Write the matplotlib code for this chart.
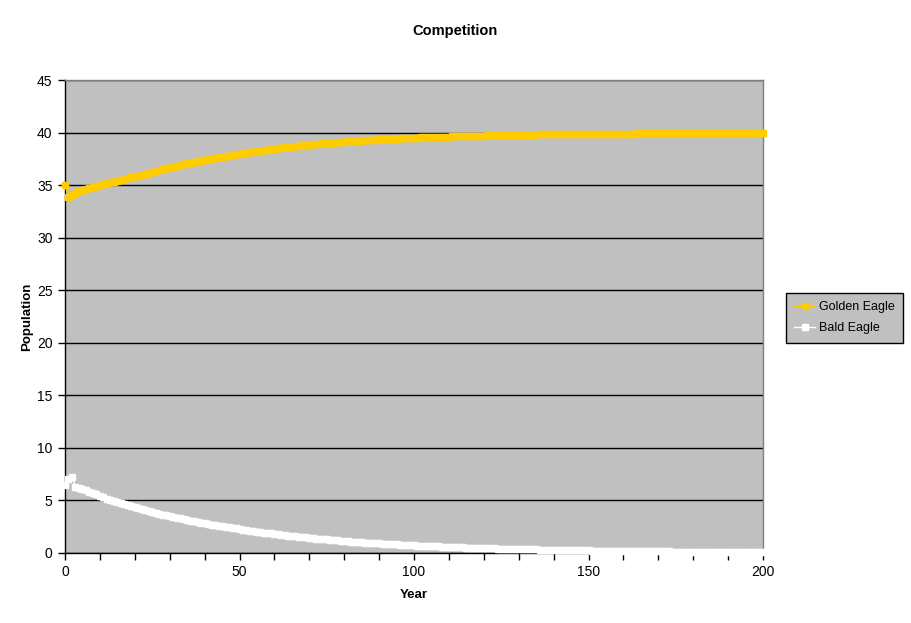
import matplotlib
matplotlib.use("Agg")
import matplotlib.pyplot as plt
from matplotlib.ticker import MultipleLocator, FuncFormatter

plt.rcParams['font.family'] = ['Liberation Sans', 'DejaVu Sans']

years = list(range(0, 201))

golden_eagle = [
    35.00, 33.90, 34.08, 34.25, 34.42, 34.52, 34.62, 34.71, 34.81, 34.90,
    34.99, 35.08, 35.17, 35.26, 35.34, 35.42, 35.50, 35.58, 35.66, 35.74,
    35.82, 35.89, 35.96, 36.06, 36.16, 36.25, 36.34, 36.43, 36.52, 36.60,
    36.68, 36.76, 36.84, 36.92, 36.99, 37.07, 37.14, 37.21, 37.27, 37.34,
    37.40, 37.47, 37.53, 37.59, 37.65, 37.70, 37.76, 37.81, 37.87, 37.92,
    37.97, 38.02, 38.08, 38.13, 38.18, 38.23, 38.28, 38.33, 38.38, 38.42,
    38.46, 38.51, 38.55, 38.59, 38.63, 38.66, 38.70, 38.74, 38.77, 38.81,
    38.84, 38.87, 38.90, 38.93, 38.96, 38.99, 39.02, 39.05, 39.07, 39.10,
    39.12, 39.15, 39.17, 39.19, 39.22, 39.24, 39.26, 39.28, 39.30, 39.32,
    39.34, 39.36, 39.37, 39.39, 39.41, 39.42, 39.44, 39.46, 39.47, 39.48,
    39.50, 39.51, 39.53, 39.54, 39.55, 39.56, 39.58, 39.59, 39.60, 39.61,
    39.62, 39.63, 39.64, 39.65, 39.66, 39.67, 39.68, 39.69, 39.70, 39.71,
    39.71, 39.72, 39.73, 39.74, 39.74, 39.75, 39.76, 39.77, 39.77, 39.78,
    39.78, 39.79, 39.80, 39.80, 39.81, 39.81, 39.82, 39.82, 39.83, 39.83,
    39.84, 39.84, 39.85, 39.85, 39.85, 39.86, 39.86, 39.87, 39.87, 39.87,
    39.88, 39.88, 39.88, 39.89, 39.89, 39.89, 39.90, 39.90, 39.90, 39.90,
    39.91, 39.91, 39.91, 39.91, 39.92, 39.92, 39.92, 39.92, 39.93, 39.93,
    39.93, 39.93, 39.93, 39.94, 39.94, 39.94, 39.94, 39.94, 39.94, 39.95,
    39.95, 39.95, 39.95, 39.95, 39.95, 39.95, 39.96, 39.96, 39.96, 39.96,
    39.96, 39.96, 39.96, 39.96, 39.96, 39.97, 39.97, 39.97, 39.97, 39.97,
    39.97,
]

bald_eagle = [
    6.50, 7.00, 7.25, 6.30, 6.15, 6.05, 5.95, 5.85, 5.72, 5.60,
    5.45, 5.30, 5.150, 5.041, 4.934, 4.830, 4.728, 4.628, 4.530, 4.434,
    4.340, 4.248, 4.158, 4.070, 3.984, 3.900, 3.817, 3.736, 3.657, 3.580,
    3.504, 3.430, 3.357, 3.286, 3.217, 3.149, 3.082, 3.017, 2.953, 2.890,
    2.829, 2.769, 2.711, 2.653, 2.597, 2.542, 2.488, 2.436, 2.384, 2.334,
    2.284, 2.232, 2.181, 2.132, 2.083, 2.036, 1.989, 1.944, 1.900, 1.857,
    1.814, 1.773, 1.733, 1.693, 1.655, 1.617, 1.580, 1.544, 1.509, 1.475,
    1.441, 1.409, 1.377, 1.345, 1.315, 1.285, 1.255, 1.227, 1.199, 1.172,
    1.145, 1.119, 1.094, 1.069, 1.044, 1.021, 0.997, 0.975, 0.953, 0.931,
    0.910, 0.889, 0.869, 0.849, 0.830, 0.811, 0.793, 0.775, 0.757, 0.740,
    0.723, 0.707, 0.692, 0.677, 0.662, 0.648, 0.634, 0.620, 0.606, 0.593,
    0.580, 0.567, 0.555, 0.543, 0.531, 0.520, 0.508, 0.497, 0.486, 0.476,
    0.465, 0.455, 0.445, 0.436, 0.426, 0.417, 0.408, 0.399, 0.390, 0.382,
    0.373, 0.365, 0.357, 0.350, 0.342, 0.335, 0.327, 0.320, 0.313, 0.306,
    0.300, 0.293, 0.287, 0.281, 0.275, 0.269, 0.263, 0.257, 0.252, 0.246,
    0.241, 0.236, 0.230, 0.225, 0.221, 0.216, 0.211, 0.206, 0.202, 0.198,
    0.193, 0.189, 0.185, 0.181, 0.177, 0.173, 0.169, 0.166, 0.162, 0.159,
    0.155, 0.152, 0.149, 0.145, 0.142, 0.139, 0.136, 0.133, 0.130, 0.127,
    0.125, 0.122, 0.119, 0.117, 0.114, 0.112, 0.109, 0.107, 0.105, 0.102,
    0.100, 0.098, 0.096, 0.094, 0.092, 0.090, 0.088, 0.086, 0.084, 0.082,
    0.080,
]

title = "Competition"
x_label = "Year"
y_label = "Population"
series_names = ["Golden Eagle", "Bald Eagle"]

GOLD = "#FFCC00"
WHITE = "#FFFFFF"
BG = "#C0C0C0"

fig = plt.figure(figsize=(9.11, 6.23), dpi=100)
fig.patch.set_facecolor("white")
ax = fig.add_axes([65 / 911, 70 / 623, 698 / 911, 473 / 623])
ax.set_facecolor(BG)

ax.plot(years, golden_eagle, color=GOLD, lw=1.0, marker="s", ms=4.2,
        mec=GOLD, mfc=GOLD, label=series_names[0], zorder=4, clip_on=False)
ax.plot(years, bald_eagle, color=WHITE, lw=1.0, marker="s", ms=4.2,
        mec=WHITE, mfc=WHITE, label=series_names[1], zorder=5, clip_on=False)

ax.set_xlim(0, 200)
ax.set_ylim(0, 45)
ax.xaxis.set_major_locator(MultipleLocator(10))
ax.xaxis.set_major_formatter(FuncFormatter(lambda v, p: f"{int(round(v))}" if int(round(v)) % 50 == 0 else ""))
ax.yaxis.set_major_locator(MultipleLocator(5))
ax.yaxis.grid(True, color="black", lw=1.0, zorder=1)
ax.set_axisbelow(True)

ax.tick_params(axis="both", direction="out", length=5, width=1, color="black",
               labelsize=10, pad=4)

for s in ["left", "bottom"]:
    ax.spines[s].set_color("black")
    ax.spines[s].set_linewidth(1.0)
for s in ["top", "right"]:
    ax.spines[s].set_color("#808080")
    ax.spines[s].set_linewidth(1.0)

fig.text(455 / 911, 1 - 31 / 623, title, ha="center", va="center",
         fontsize=10.5, fontweight="bold")
fig.text(414 / 911, 1 - 595 / 623, x_label, ha="center", va="center",
         fontsize=9.5, fontweight="bold")
fig.text(27 / 911, 1 - 317 / 623, y_label, ha="center", va="center",
         fontsize=9.5, fontweight="bold", rotation=90)

leg = fig.legend(loc="upper left", bbox_to_anchor=(786 / 911, 1 - 293 / 623),
                 frameon=True, fancybox=False, edgecolor="black",
                 facecolor=BG, framealpha=1, fontsize=9, handlelength=1.7,
                 borderpad=0.65, labelspacing=0.75, handletextpad=0.3,
                 borderaxespad=0)
leg.get_frame().set_linewidth(1.0)

fig.savefig("out.png", dpi=100, facecolor="white")
